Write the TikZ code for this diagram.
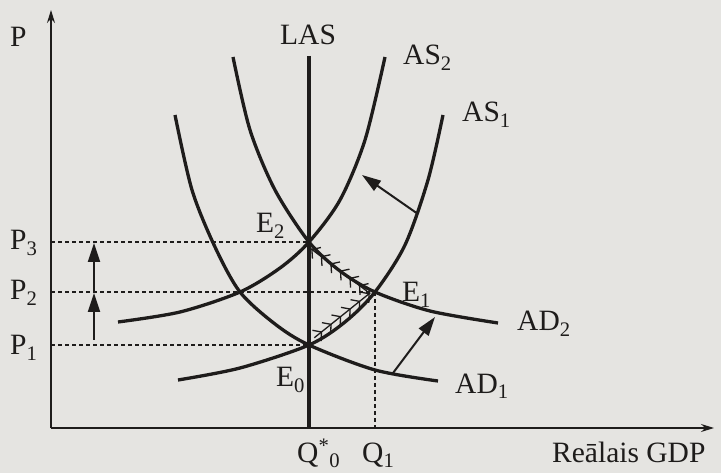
\documentclass[tikz,border=0pt]{standalone}
\usepackage{fontspec}
\setmainfont{Liberation Serif}
\usetikzlibrary{arrows.meta,decorations.markings,calc}
\definecolor{paper}{RGB}{229,228,225}
\definecolor{ink}{RGB}{30,28,27}
\tikzset{
  curve/.style={line width=3.3pt,ink},
  axis/.style={line width=1.4pt,ink,-{Stealth[length=13pt,width=8pt]}},
  guide/.style={line width=1.2pt,ink,dash pattern=on 4pt off 3pt},
  lbl/.style={font=\fontsize{29.5}{32}\selectfont,text=ink,inner sep=0pt,anchor=base west},
  shiftarrow/.style={line width=2pt,ink,-{Triangle[length=19pt,width=12pt]}},
  chevrons/.style={line width=1.3pt,ink,postaction={decorate},
    decoration={markings,mark=between positions 0.14 and 0.99 step 0.17 with {\arrow{Straight Barb[length=6pt,width=14pt,line width=1.3pt]}}}}
}
\begin{document}
\begin{tikzpicture}[x=1pt,y=-1pt]
\fill[paper] (0,0) rectangle (721,473);
\useasboundingbox (0,0) rectangle (721,473);
\coordinate (O) at (51,428);
\coordinate (E0) at (309,345);
\coordinate (E1) at (375,292);
\coordinate (E2) at (309,242);
\draw[guide] (O |- E2) -- (E2);
\draw[guide] (O |- E1) -- (E1);
\draw[guide] (O |- E0) -- (E0);
\draw[guide] (E1) -- (E1 |- O);
\draw[axis] (O) -- (51,10);
\draw[axis] (O) -- (714,428);
\draw[curve] (309,56) -- (E0 |- O);
\draw[curve] plot[smooth] coordinates {(118,322) (180,312) (240,292) (280,268) (E2) (340,200) (365,140) (385,57)};
\draw[curve] plot[smooth] coordinates {(178,380) (240,368) (E0) (345,322) (E1) (405,245) (428,180) (443,115)};
\draw[curve] plot[smooth] coordinates {(233,57) (250,130) (275,190) (E2) (340,271) (E1) (430,311) (498,323)};
\draw[curve] plot[smooth] coordinates {(175,115) (192,190) (215,247) (240,292) (275,324) (E0) (375,370) (438,381)};
\draw[chevrons] ($(E0)!0.08!(E1)+(0,-3)$) -- ($(E0)!0.93!(E1)+(0,-3)$);
\draw[chevrons] ($(E1)!0.08!(E2)+(-3,3)$) -- ($(E1)!0.93!(E2)+(-3,3)$);
\draw[shiftarrow] (94,340) -- (94,293);
\draw[shiftarrow] (94,292) -- (94,243);
\draw[shiftarrow] (418,214) -- (362,175);
\draw[shiftarrow] (393,373) -- (435,317);
\node[lbl] (P) at (10,47) {P};
\node[lbl] (P3) at (10,250) {P\textsubscript{3}};
\node[lbl] (P2) at (10,300) {P\textsubscript{2}};
\node[lbl] (P1) at (10,355) {P\textsubscript{1}};
\node[lbl] (LAS) at (280,45) {LAS};
\node[lbl] (AS2) at (403,65) {AS\textsubscript{2}};
\node[lbl] (AS1) at (462,122) {AS\textsubscript{1}};
\node[lbl] (AD2) at (517,331) {AD\textsubscript{2}};
\node[lbl] (AD1) at (455,393) {AD\textsubscript{1}};
\node[lbl] (E2l) at (256,233) {E\textsubscript{2}};
\node[lbl] (E1l) at (402,302) {E\textsubscript{1}};
\node[lbl] (E0l) at (276,387) {E\textsubscript{0}};
\node[lbl] (Q0) at (297,462) {Q\textsuperscript{*}\textsubscript{0}};
\node[lbl] (Q1) at (362,462) {Q\textsubscript{1}};
\node[lbl] (GDP) at (552,462) {Reālais GDP};
\end{tikzpicture}
\end{document}
